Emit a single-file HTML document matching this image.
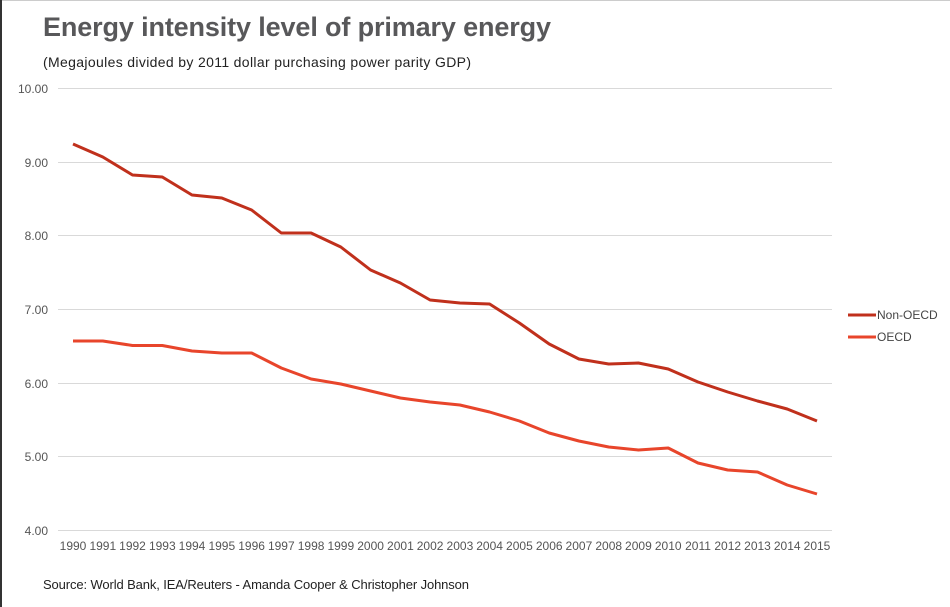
<!DOCTYPE html>
<html><head><meta charset="utf-8"><style>
body{margin:0;background:#fff;}
#c{position:relative;width:950px;height:607px;overflow:hidden;font-family:"Liberation Sans",Arial,sans-serif;}
</style></head><body><div id="c">
<svg width="950" height="607" xmlns="http://www.w3.org/2000/svg" font-family="Liberation Sans, Arial, sans-serif">
<rect x="0" y="0" width="950" height="607" fill="#fff"/>
<line x1="0" y1="0.5" x2="950" y2="0.5" stroke="#ccc"/>
<line x1="1" y1="0" x2="1" y2="607" stroke="#333" stroke-width="2"/>
<text x="43" y="36" font-size="27" font-weight="bold" fill="#58585a" textLength="508">Energy intensity level of primary energy</text>
<text x="43" y="67" font-size="14" fill="#222" textLength="428">(Megajoules divided by 2011 dollar purchasing power parity GDP)</text>
<g stroke="#d9d9d9" stroke-width="1">
<line x1="58" x2="832" y1="88.5" y2="88.5"/><line x1="58" x2="832" y1="162.5" y2="162.5"/>
<line x1="58" x2="832" y1="235.5" y2="235.5"/><line x1="58" x2="832" y1="309.5" y2="309.5"/>
<line x1="58" x2="832" y1="383.5" y2="383.5"/><line x1="58" x2="832" y1="456.5" y2="456.5"/>
<line x1="58" x2="832" y1="530.5" y2="530.5"/>
</g>
<g font-size="12" fill="#555" text-anchor="end">
<text x="48" y="93">10.00</text><text x="48" y="167">9.00</text><text x="48" y="240">8.00</text>
<text x="48" y="314">7.00</text><text x="48" y="388">6.00</text><text x="48" y="461">5.00</text><text x="48" y="535">4.00</text>
</g>
<polyline fill="none" stroke="#c0301c" stroke-width="3" stroke-linejoin="round" points="73,144 102.8,157 132.5,175 162.3,177 192,195 221.8,198 251.6,210 281.3,233 311.1,233 340.8,247 370.6,270 400.4,283 430.1,300 459.9,303 489.6,304 519.4,323 549.2,344 578.9,359 608.7,364 638.4,363 668.2,369 698,382 727.7,392 757.5,401 787.2,409 817,421"/>
<polyline fill="none" stroke="#e8452b" stroke-width="3" stroke-linejoin="round" points="73,341 102.8,341 132.5,345.5 162.3,345.5 192,351 221.8,353 251.6,353 281.3,368 311.1,379 340.8,384 370.6,391 400.4,398 430.1,402 459.9,405 489.6,412 519.4,421 549.2,433 578.9,441 608.7,447 638.4,450 668.2,448 698,463 727.7,470 757.5,472 787.2,485 817,494"/>
<line x1="848" x2="876" y1="315" y2="315" stroke="#c0301c" stroke-width="3"/>
<line x1="848" x2="876" y1="337" y2="337" stroke="#e8452b" stroke-width="3"/>
<text x="877" y="319" font-size="12" fill="#444">Non-OECD</text>
<text x="877" y="341" font-size="12" fill="#444">OECD</text>
<text x="43" y="589" font-size="13" fill="#222" textLength="426">Source: World Bank, IEA/Reuters - Amanda Cooper &amp; Christopher Johnson</text>
<g font-size="12" fill="#555" text-anchor="middle">
<text x="73" y="550">1990</text><text x="102.8" y="550">1991</text><text x="132.5" y="550">1992</text><text x="162.3" y="550">1993</text><text x="192" y="550">1994</text><text x="221.8" y="550">1995</text><text x="251.6" y="550">1996</text><text x="281.3" y="550">1997</text><text x="311.1" y="550">1998</text><text x="340.8" y="550">1999</text><text x="370.6" y="550">2000</text><text x="400.4" y="550">2001</text><text x="430.1" y="550">2002</text><text x="459.9" y="550">2003</text><text x="489.6" y="550">2004</text><text x="519.4" y="550">2005</text><text x="549.2" y="550">2006</text><text x="578.9" y="550">2007</text><text x="608.7" y="550">2008</text><text x="638.4" y="550">2009</text><text x="668.2" y="550">2010</text><text x="698" y="550">2011</text><text x="727.7" y="550">2012</text><text x="757.5" y="550">2013</text><text x="787.2" y="550">2014</text><text x="817" y="550">2015</text>
</g>
</svg>
</div></body></html>
